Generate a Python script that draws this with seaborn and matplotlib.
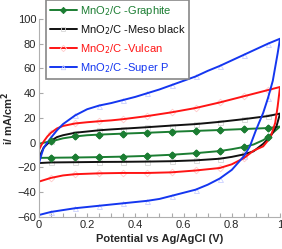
import numpy as np
import pandas as pd
import matplotlib
matplotlib.use('Agg')
import matplotlib.pyplot as plt
import seaborn as sns
from matplotlib.lines import Line2D
from matplotlib.ticker import MultipleLocator

# anodic (upper) and cathodic (lower) branches, x ascending for both
graphite_up_x = [0, 0, 0.02, 0.05, 0.1, 0.15, 0.2, 0.25, 0.35, 0.45, 0.55, 0.65, 0.75, 0.85, 0.95, 1.0]
graphite_up_y = [-12, -1, 0, 1, 3.5, 5, 6, 6.5, 7.3, 8, 8.8, 9.5, 10.2, 11, 11.8, 13]
graphite_lo_x = [0, 0.05, 0.15, 0.25, 0.35, 0.45, 0.55, 0.65, 0.75, 0.8, 0.85, 0.89, 0.93, 0.95, 1.0]
graphite_lo_y = [-12.3, -12.2, -12, -11.7, -11.3, -10.7, -9.8, -8.5, -6.8, -5.3, -3.5, -1.5, 2, 4.5, 13]

meso_up_x = [0, 0.01, 0.02, 0.035, 0.05, 0.075, 0.1, 0.15, 0.2, 0.25, 0.3, 0.35, 0.45, 0.55, 0.65, 0.75, 0.85, 0.95, 1.0]
meso_up_y = [-14, -8, -4, -1, 1.5, 4.5, 6, 8, 9, 10, 10.7, 11.3, 12.5, 13.8, 15, 16.8, 19, 21.5, 23.5]
meso_lo_x = [0, 0.05, 0.15, 0.25, 0.35, 0.45, 0.55, 0.65, 0.75, 0.8, 0.85, 0.89, 0.93, 0.96, 0.985, 1.0]
meso_lo_y = [-16.5, -16, -15.8, -15.6, -15.5, -15.3, -15, -14.3, -13, -11.5, -9.5, -7, -1, 5, 13, 23.5]

vulcan_up_x = [0, 0.01, 0.02, 0.035, 0.05, 0.075, 0.1, 0.15, 0.2, 0.25, 0.3, 0.35, 0.45, 0.55, 0.65, 0.75, 0.85, 0.95, 1.0]
vulcan_up_y = [-6, -2, 1, 5, 8, 11.5, 13.5, 15.5, 16.5, 17.3, 18, 19, 21.5, 24.5, 28, 32.5, 37.5, 42.5, 45]
vulcan_lo_x = [0, 0.05, 0.1, 0.15, 0.25, 0.35, 0.45, 0.55, 0.65, 0.75, 0.8, 0.85, 0.89, 0.93, 0.96, 0.98, 0.99, 1.0]
vulcan_lo_y = [-31.5, -28.5, -26.5, -25.5, -24.8, -24.5, -24.5, -24, -22.5, -20.5, -17.5, -12.5, -6.5, -3, 4, 16, 29, 45]

superp_up_x = [0, 0.01, 0.02, 0.035, 0.05, 0.075, 0.1, 0.15, 0.2, 0.25, 0.3, 0.35, 0.4, 0.45, 0.5, 0.55, 0.6, 0.65, 0.7, 0.75, 0.8, 0.85, 0.9, 0.95, 1.0]
superp_up_y = [-17, -10, -4, 0, 4, 10, 15, 22, 27, 30, 32, 34.5, 37, 40, 43, 46.5, 50, 53.5, 58, 62, 66.5, 71, 75.5, 80, 84]
superp_lo_x = [0, 0.05, 0.1, 0.15, 0.2, 0.25, 0.3, 0.35, 0.4, 0.45, 0.5, 0.55, 0.6, 0.65, 0.7, 0.75, 0.8, 0.85, 0.875, 0.9, 0.93, 0.95, 0.97, 0.98, 0.99, 1.0]
superp_lo_y = [-58.5, -56, -54.5, -53, -52, -51, -50, -49, -48, -47, -45.5, -43, -40.5, -38, -34, -29, -22, -11, -3, 10, 24, 36, 50, 61, 72, 84]

marker_x = [0.05, 0.15, 0.25, 0.35, 0.45, 0.55, 0.65, 0.75, 0.85, 0.95]

series = [
    ('MnO$_2$/C -Graphite', graphite_up_x, graphite_up_y, graphite_lo_x, graphite_lo_y),
    ('MnO$_2$/C -Meso black', meso_up_x, meso_up_y, meso_lo_x, meso_lo_y),
    ('MnO$_2$/C -Vulcan', vulcan_up_x, vulcan_up_y, vulcan_lo_x, vulcan_lo_y),
    ('MnO$_2$/C -Super P', superp_up_x, superp_up_y, superp_lo_x, superp_lo_y),
]
line_colors = ['#1b7d32', '#111111', '#ff1414', '#1436f0']
# faint open markers for all but graphite
mk_style = [('D', '#1b7d32', '#1b7d32'), ('s', 'none', '#d6d6d6'),
            ('D', 'none', '#ffcaca'), ('^', 'none', '#cad0ff')]

sns.set_style('white')
plt.rcParams['font.family'] = ['Liberation Sans', 'DejaVu Sans']

fig = plt.figure(figsize=(2.82, 2.49), dpi=100)
ax = fig.add_axes([0.138, 0.129, 0.855, 0.795])

handles = []
for (name, ux, uy, lx, ly), col, (mk, fc, ec) in zip(series, line_colors, mk_style):
    df = pd.DataFrame({'x': list(ux) + list(lx)[::-1], 'y': list(uy) + list(ly)[::-1]})
    dm = df[df['x'].round(3).isin(marker_x)]
    ax.plot(dm['x'], dm['y'], ls='none', marker=mk, ms=3.4 if mk == 'D' else 3.6,
            mfc=fc, mec=ec, mew=0.6, zorder=1)
    sns.lineplot(data=df, x='x', y='y', sort=False, estimator=None, color=col, lw=1.4, ax=ax, zorder=2)
    if mk == 'D' and fc != 'none':
        ax.plot(dm['x'], dm['y'], ls='none', marker=mk, ms=3.4, mfc=fc, mec=ec, zorder=3)
    handles.append(Line2D([], [], color=col, lw=1.4, marker=mk, ms=3.2, mfc=fc, mec=ec, mew=0.6, label=name))

ax.set_xlim(0, 1)
ax.set_ylim(-60, 100)
ax.xaxis.set_major_locator(MultipleLocator(0.2))
ax.xaxis.set_minor_locator(MultipleLocator(0.05))
ax.yaxis.set_major_locator(MultipleLocator(20))
ax.xaxis.set_major_formatter(matplotlib.ticker.FuncFormatter(lambda v, p: '%g' % round(v, 2)))
ax.tick_params(axis='both', which='both', direction='in', length=3, width=0.8,
               color='#aaaaaa', labelsize=8, pad=2, left=True, bottom=True)
for s in ['top', 'right']:
    ax.spines[s].set_visible(False)
for s in ['left', 'bottom']:
    ax.spines[s].set_color('#b0b0b0')
    ax.spines[s].set_linewidth(0.8)

ax.set_xlabel('Potential vs Ag/AgCl (V)', fontsize=8, fontweight='bold', labelpad=3)
ax.set_ylabel('i/ mA/cm$^\\mathbf{2}$', fontsize=8, fontweight='bold', labelpad=1)

leg = ax.legend(handles=handles, loc='upper left', bbox_to_anchor=(0.163, 0.998),
                bbox_transform=fig.transFigure, borderaxespad=0, fontsize=8,
                handlelength=2.4, handletextpad=0.3, labelspacing=0.45,
                borderpad=0.35, fancybox=False, framealpha=1)
leg.get_frame().set_edgecolor('#888888')
leg.get_frame().set_linewidth(1.2)
for t, c in zip(leg.get_texts(), line_colors):
    t.set_color(c)

fig.savefig('out.png', dpi=100)
